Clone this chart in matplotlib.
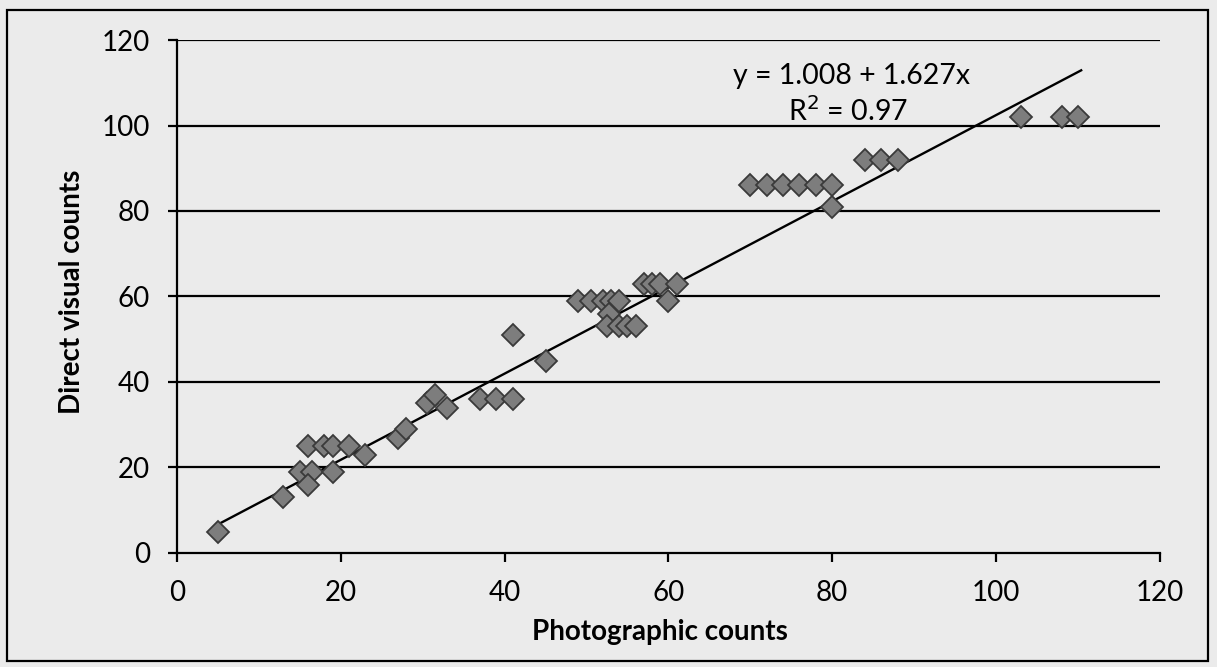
import numpy as np
import matplotlib
matplotlib.use("Agg")
import matplotlib.pyplot as plt
from matplotlib.patches import Rectangle

plt.rcParams['font.family'] = ['Lato', 'DejaVu Sans']

# photographic vs direct visual counts
photo = [5, 13, 15, 16.5, 16, 16, 18, 19, 21, 19, 23,
         27, 28, 30.5, 31.5, 33, 37, 39, 41, 41, 45,
         49, 50.5, 52, 53, 54, 52.7, 52.5, 54, 55, 56,
         57, 58, 59, 61, 60,
         70, 72, 74, 76, 78, 80, 80,
         84, 86, 88, 103, 108, 110]
visual = [5, 13, 19, 19, 16, 25, 25, 25, 25, 19, 23,
          27, 29, 35, 37, 34, 36, 36, 36, 51, 45,
          59, 59, 59, 59, 59, 56, 53, 53, 53, 53,
          63, 63, 63, 63, 59,
          86, 86, 86, 86, 86, 86, 81,
          92, 92, 92, 102, 102, 102]

# fitted line
intercept = 1.627
slope = 1.008
fit_x = [5, 110.4]
eq_text = "y = 1.008 + 1.627x"
r2_text = "R$^2$ = 0.97"

xticks = [0, 20, 40, 60, 80, 100, 120]
yticks = [0, 20, 40, 60, 80, 100, 120]

bg = '#ebebeb'
fig = plt.figure(figsize=(12.17, 6.67), dpi=100, facecolor=bg)
ax = fig.add_axes([0.1454, 0.171, 0.8076, 0.769], facecolor=bg)

for yv in yticks[1:]:
    ax.axhline(yv, color='black', lw=1.6, zorder=1)

fx = np.array(fit_x)
ax.plot(fx, intercept + slope * fx, color='black', lw=1.7, zorder=2)
ax.plot(photo, visual, linestyle='none', marker='D', markersize=11,
        markerfacecolor='#7d7d7d', markeredgecolor='#3a3a3a',
        markeredgewidth=1.3, zorder=3)

ax.set_xlim(0, 120)
ax.set_ylim(0, 120)
ax.set_xticks(xticks)
ax.set_yticks(yticks)
ax.tick_params(direction='out', length=6.5, width=1.6, labelsize=20, pad=13)

for s in ['top', 'right']:
    ax.spines[s].set_visible(False)
for s in ['left', 'bottom']:
    ax.spines[s].set_linewidth(1.6)

ax.text(82.4, 111.5, eq_text, ha='center', va='center', fontsize=20.5)
ax.text(81.9, 103.3, r2_text, ha='center', va='center', fontsize=20.5)

ax.set_xlabel('Photographic counts', fontsize=20, fontweight='bold')
ax.set_ylabel('Direct visual counts', fontsize=20, fontweight='bold')
ax.xaxis.set_label_coords(0.491, -0.128)
ax.yaxis.set_label_coords(-0.094, 0.509)

# outer frame
fig.patches.append(Rectangle((0.006, 0.009), 0.987, 0.976, transform=fig.transFigure,
                             fill=False, edgecolor='black', lw=1.6))

fig.savefig('out.png', dpi=100, facecolor=bg)
